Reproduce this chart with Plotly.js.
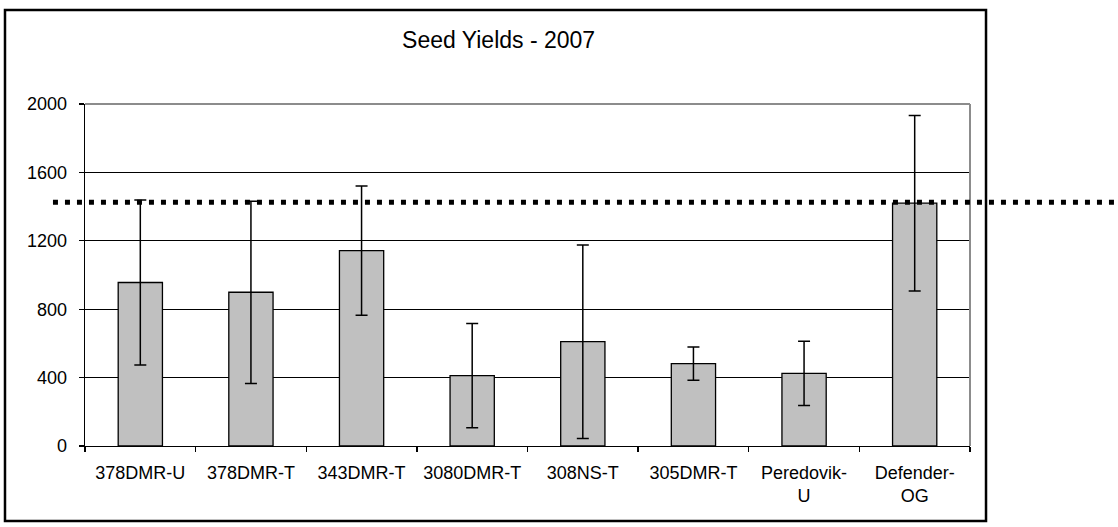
<!DOCTYPE html>
<html>
<head>
<meta charset="utf-8">
<script src="https://cdn.plot.ly/plotly-3.0.1.min.js"></script>
<style>
  html, body { margin: 0; padding: 0; background: #ffffff; }
  #chart { width: 1118px; height: 527px; }
</style>
</head>
<body>
<div id="chart"></div>
<script>
// ---- data ----
const categories = ["378DMR-U", "378DMR-T", "343DMR-T", "3080DMR-T", "308NS-T", "305DMR-T", "Peredovik-<br>U", "Defender-<br>OG"];
const yields = [956, 899, 1142, 412, 610, 482, 425, 1420];
const yieldErrors = [483, 533, 378, 305, 566, 97, 188, 513];
const referenceYield = 1426;
const yTicks = [0, 400, 800, 1200, 1600, 2000];
const chartTitle = "Seed Yields - 2007";

const FONT = "Liberation Sans, Arial, sans-serif";

const bars = {
  type: "bar",
  x: categories,
  y: yields,
  marker: { color: "#C0C0C0", line: { color: "#000000", width: 1.3 } },
  error_y: { type: "data", array: yieldErrors, visible: true, color: "#000000", thickness: 1.5, width: 6 },
  hoverinfo: "x+y",
  showlegend: false
};

const layout = {
  width: 1118,
  height: 527,
  margin: { l: 85, r: 148, t: 104, b: 81, pad: 0 },
  paper_bgcolor: "#ffffff",
  plot_bgcolor: "#ffffff",
  font: { family: FONT, size: 18, color: "#000000" },
  title: {
    text: chartTitle,
    font: { family: FONT, size: 23, color: "#000000" },
    xref: "container", x: 0.446, xanchor: "center",
    yref: "container", y: 0.924, yanchor: "middle"
  },
  bargap: 0.6,
  xaxis: {
    type: "category",
    showgrid: false,
    zeroline: false,
    showline: true, linecolor: "#000000", linewidth: 1.3,
    ticks: "outside", tickson: "boundaries", ticklen: 5, tickcolor: "#000000", tickwidth: 1.3,
    tickfont: { family: FONT, size: 18, color: "#000000" },
    ticklabelstandoff: 10,
    fixedrange: true
  },
  yaxis: {
    range: [0, 2000],
    tickvals: yTicks,
    ticktext: yTicks.map(String),
    showgrid: true, gridcolor: "#000000", gridwidth: 1.2,
    zeroline: false,
    showline: true, linecolor: "#000000", linewidth: 1.3,
    ticks: "outside", ticklen: 5, tickcolor: "#000000", tickwidth: 1.3,
    tickfont: { family: FONT, size: 18, color: "#000000" },
    ticklabelstandoff: 8,
    fixedrange: true
  },
  shapes: [
    // plot-area border (top and right, grey)
    { type: "line", xref: "paper", yref: "paper", x0: 0, x1: 1, y0: 1, y1: 1, line: { color: "#8C8C8C", width: 2 }, layer: "above" },
    { type: "line", xref: "paper", yref: "paper", x0: 1, x1: 1, y0: 0, y1: 1, line: { color: "#8C8C8C", width: 2 }, layer: "above" },
    // chart-area border
    { type: "rect", xref: "paper", yref: "paper", x0: -0.0904, x1: 1.0181, y0: -0.2193, y1: 1.2749, line: { color: "#000000", width: 2.5 }, fillcolor: "rgba(0,0,0,0)", layer: "above" },
    // dotted reference line
    { type: "line", xref: "paper", yref: "y", x0: -0.0362, x1: 1.1638, y0: referenceYield, y1: referenceYield, line: { color: "#000000", width: 5, dash: "5px,7px" }, layer: "above" }
  ]
};

Plotly.newPlot("chart", [bars], layout, { displayModeBar: false, staticPlot: true });
</script>
</body>
</html>
